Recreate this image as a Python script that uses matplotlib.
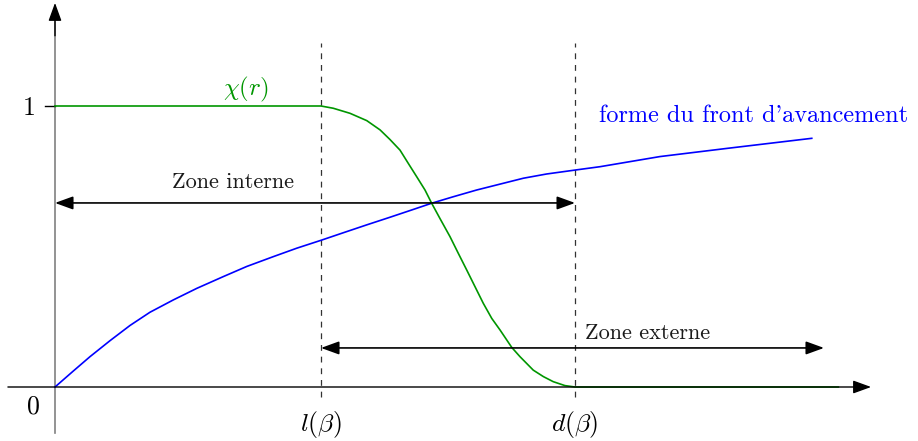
import numpy as np
import matplotlib.pyplot as plt

plt.rcParams['mathtext.fontset'] = 'cm'
plt.rcParams['lines.scale_dashes'] = False

# x in units of l(beta), y in units of chi = 1
l_beta = 1.0
d_beta = 1.955

chi_x = [0.0, 1.0, 1.046, 1.109, 1.172, 1.222, 1.259, 1.297, 1.328, 1.360,
         1.391, 1.416, 1.447, 1.485, 1.516, 1.548, 1.579, 1.610, 1.642,
         1.673, 1.717, 1.748, 1.798, 1.836, 1.873, 1.917, 1.955, 2.945]
chi_y = [1.0, 1.0, 0.992, 0.974, 0.948, 0.915, 0.881, 0.843, 0.796, 0.748,
         0.701, 0.654, 0.600, 0.535, 0.476, 0.416, 0.357, 0.298, 0.244,
         0.203, 0.141, 0.108, 0.060, 0.037, 0.019, 0.005, 0.0, 0.0]

front_x = [0.0, 0.069, 0.1316, 0.207, 0.282, 0.357, 0.445, 0.533, 0.633, 0.721,
           0.821, 0.909, 1.003, 1.084, 1.172, 1.259, 1.341, 1.416, 1.497,
           1.585, 1.673, 1.761, 1.848, 1.955, 2.049, 2.274, 2.525, 2.845]
front_y = [0.0, 0.057, 0.108, 0.165, 0.219, 0.266, 0.310, 0.351, 0.393, 0.429,
           0.464, 0.494, 0.523, 0.549, 0.577, 0.604, 0.630, 0.654, 0.677,
           0.701, 0.722, 0.743, 0.758, 0.772, 0.784, 0.820, 0.849, 0.885]

green = '#009600'
blue = '#0000ff'

fig = plt.figure(figsize=(9.18, 4.41), dpi=100)
ax = fig.add_axes([0, 0, 1, 1])
ax.set_xlim(-55 / 266, 863 / 266)
ax.set_ylim(-54 / 281, 387 / 281)
ax.axis('off')

# axes with arrows
ax.annotate('', xy=(3.068, 0), xytext=(-0.177, 0),
            arrowprops=dict(arrowstyle='-|>,head_length=0.55,head_width=0.2',
                            mutation_scale=20, lw=1.0, color='black',
                            shrinkA=0, shrinkB=0))
ax.plot([0, 0], [-0.164, 1.30], color='#808080', lw=1.2)
ax.annotate('', xy=(0, 1.367), xytext=(0, 1.25),
            arrowprops=dict(arrowstyle='-|>,head_length=0.55,head_width=0.2',
                            mutation_scale=20, lw=1.0, color='black',
                            shrinkA=0, shrinkB=0))
ax.plot([-0.0376, 0], [1, 1], color='black', lw=1.0)

# dashed verticals
for xv in [l_beta, d_beta]:
    ax.plot([xv, xv], [-0.036, 1.224], color='#333333', lw=0.9,
            dashes=(4.2, 4.2))

ax.plot(front_x, front_y, color=blue, lw=1.2, solid_joinstyle='round')
ax.plot(chi_x, chi_y, color=green, lw=1.2, solid_joinstyle='round')

# zone arrows
dbl = dict(arrowstyle='<|-|>,head_length=0.55,head_width=0.2',
           mutation_scale=20, lw=1.2, color='black', shrinkA=0, shrinkB=0)
ax.annotate('', xy=(d_beta, 0.655), xytext=(0, 0.655), arrowprops=dbl)
ax.annotate('', xy=(2.891, 0.139), xytext=(l_beta, 0.139), arrowprops=dbl)

ax.text(0.669, 0.730, 'Zone interne', fontfamily='cmr10', fontsize=16,
        ha='center', va='center', color='#1a1a1a')
ax.text(1.992, 0.192, 'Zone externe', fontfamily='cmr10', fontsize=16,
        ha='left', va='center', color='#1a1a1a')
ax.text(2.045, 0.944, "forme du front d'avancement", fontfamily='cmr10',
        fontsize=17.5, ha='left', va='baseline', color=blue)
ax.text(0.718, 1.06, r'$\chi(r)$', fontsize=18, ha='center', va='center',
        color=green)

ax.text(-0.1015, 0.993, r'$1$', fontsize=18.5, ha='center', va='center')
ax.text(-0.0846, -0.071, r'$0$', fontsize=18.5, ha='center', va='center')
ax.text(l_beta, -0.132, r'$l(\beta)$', fontsize=18.5, ha='center', va='center')
ax.text(d_beta, -0.132, r'$d(\beta)$', fontsize=18.5, ha='center', va='center')

fig.savefig('out.png', dpi=100)
